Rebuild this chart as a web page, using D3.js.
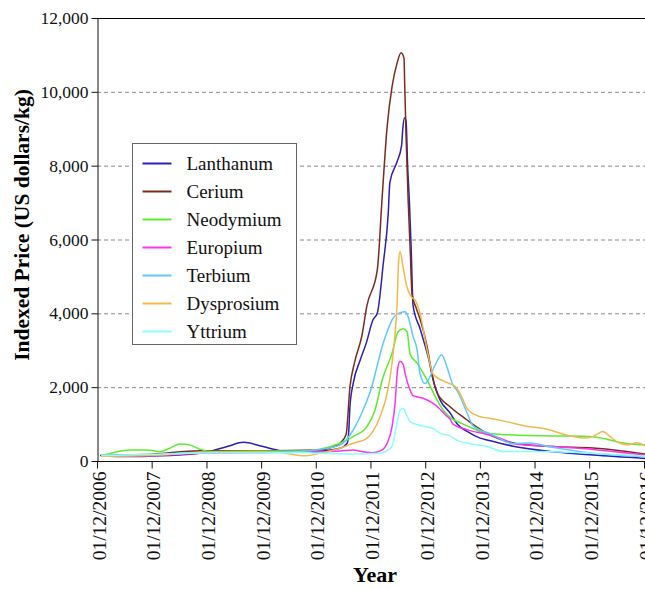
<!DOCTYPE html>
<html>
<head>
<meta charset="utf-8">
<script src="https://cdn.jsdelivr.net/npm/d3@7"></script>
<style>
  body { margin: 0; background: #fff; }
  svg { display: block; }
  svg text { font-family: "Liberation Serif", "Times New Roman", Times, serif; }
</style>
</head>
<body>
<script>
// Rare earth indexed prices ([decimal year, US$/kg])
const elements = ["Lanthanum", "Cerium", "Neodymium", "Europium", "Terbium", "Dysprosium", "Yttrium"];
const colors = ["#2c1fb3", "#7a2c1e", "#58ee2c", "#ff33ee", "#5ec8ff", "#f2b84c", "#88ffff"];
const yTicks = [0, 2000, 4000, 6000, 8000, 10000, 12000];
const xTickYears = [2006, 2007, 2008, 2009, 2010, 2011, 2012, 2013, 2014, 2015, 2016];

const lanthanum = [
  [2006.99,145],[2007.48,120],[2007.94,135],[2008.40,160],[2008.95,250],[2009.31,400],[2009.59,505],
  [2009.93,400],[2010.30,270],[2010.67,235],[2011.09,280],[2011.36,345],[2011.49,480],[2011.52,840],
  [2011.54,1470],[2011.60,2100],[2011.73,2740],[2011.84,3200],[2011.96,3820],[2012.04,4000],[2012.15,5350],
  [2012.24,6700],[2012.27,7550],[2012.40,8100],[2012.484,8550],[2012.506,9000],[2012.539,9300],
  [2012.566,9200],[2012.594,8000],[2012.627,7000],[2012.658,5800],[2012.694,4200],[2012.822,3580],
  [2012.968,2825],[2013.096,2010],[2013.188,1650],[2013.37,1300],[2013.50,1000],[2013.681,800],
  [2013.919,620],[2014.047,570],[2014.522,400],[2015.254,250],[2015.985,160],[2016.935,70]
];
const cerium = [
  [2006.97,150],[2007.89,180],[2008.80,280],[2009.95,280],[2010.96,300],[2011.23,380],[2011.36,480],
  [2011.47,720],[2011.54,2000],[2011.63,2700],[2011.76,3400],[2011.85,4200],[2012.04,5170],[2012.13,7160],
  [2012.22,9050],[2012.31,10140],[2012.40,10770],[2012.475,11060],[2012.529,10900],[2012.539,10300],
  [2012.566,8800],[2012.603,7100],[2012.639,5800],[2012.676,4500],[2012.749,4150],[2012.840,3750],
  [2012.950,3100],[2013.06,2190],[2013.133,1850],[2013.37,1470],[2013.681,1110],[2013.846,930],
  [2014.102,700],[2014.522,490],[2015.254,390],[2015.985,350],[2016.478,280],[2016.935,190]
];
const neodymium = [
  [2006.99,150],[2007.15,200],[2007.28,250],[2007.52,300],[2007.83,300],[2008.07,250],[2008.25,350],
  [2008.43,460],[2008.62,430],[2008.80,315],[2009.02,260],[2009.90,270],[2010.63,270],[2010.99,320],
  [2011.36,480],[2011.60,660],[2011.85,930],[2012.00,1380],[2012.13,2190],[2012.31,2920],[2012.42,3500],
  [2012.511,3580],[2012.584,3500],[2012.639,2900],[2012.767,2650],[2012.950,2190],[2013.133,1650],
  [2013.243,1380],[2013.37,1180],[2013.608,1000],[2013.791,880],[2014.047,750],[2014.522,705],
  [2015.254,680],[2015.985,660],[2016.204,600],[2016.478,500],[2016.935,430]
];
const europium = [
  [2006.99,130],[2007.89,140],[2008.80,210],[2009.90,230],[2010.63,240],[2010.99,250],[2011.36,270],
  [2011.60,300],[2011.78,250],[2011.96,225],[2012.13,300],[2012.22,480],[2012.31,930],[2012.365,1560],
  [2012.41,2465],[2012.456,2700],[2012.511,2620],[2012.548,2375],[2012.639,1920],[2012.694,1770],
  [2012.877,1700],[2013.06,1560],[2013.188,1400],[2013.279,1260],[2013.37,1130],[2013.425,1000],
  [2013.681,850],[2014.047,720],[2014.285,620],[2014.541,470],[2015.254,390],[2015.985,310],[2016.935,160]
];
const terbium = [
  [2006.99,150],[2007.89,170],[2008.80,230],[2009.90,250],[2010.63,260],[2010.99,315],[2011.36,430],
  [2011.60,840],[2011.78,1380],[2011.94,2010],[2012.05,2650],[2012.13,3100],[2012.22,3500],[2012.31,3820],
  [2012.456,4020],[2012.548,4045],[2012.603,3910],[2012.694,3370],[2012.767,3010],[2012.822,2350],
  [2012.914,2100],[2012.968,2190],[2013.096,2600],[2013.215,2880],[2013.31,2555],[2013.425,2050],
  [2013.50,1900],[2013.681,1300],[2013.791,950],[2014.102,740],[2014.522,470],[2014.833,490],
  [2015.144,400],[2015.93,220],[2016.935,115]
];
const dysprosium = [
  [2006.99,130],[2007.89,150],[2008.80,230],[2009.71,250],[2010.26,230],[2010.72,140],[2010.96,200],
  [2011.36,345],[2011.60,480],[2011.85,615],[2011.96,800],[2012.09,1200],[2012.22,1830],[2012.31,2650],
  [2012.365,3460],[2012.40,4200],[2012.43,5400],[2012.456,5670],[2012.511,5250],[2012.575,4750],
  [2012.658,4450],[2012.731,4360],[2012.822,4000],[2012.950,3000],[2013.06,2350],[2013.243,2170],
  [2013.48,2000],[2013.608,1650],[2013.681,1420],[2013.864,1230],[2014.157,1140],[2014.413,1060],
  [2014.742,950],[2015.144,860],[2015.51,700],[2015.875,620],[2016.058,720],[2016.159,800],
  [2016.296,660],[2016.478,480],[2016.625,440],[2016.789,495],[2016.935,405]
];
const yttrium = [
  [2006.99,150],[2007.89,180],[2008.80,220],[2009.90,220],[2010.63,230],[2010.99,210],[2011.60,190],
  [2012.09,210],[2012.24,300],[2012.31,400],[2012.396,1000],[2012.456,1380],[2012.511,1420],
  [2012.584,1220],[2012.639,1065],[2012.822,960],[2013.06,880],[2013.188,750],[2013.37,680],
  [2013.50,560],[2013.736,470],[2014.047,390],[2014.34,260],[2015.254,250],[2015.985,210],[2016.935,130]
];
const seriesValues = [lanthanum, cerium, neodymium, europium, terbium, dysprosium, yttrium];

const width = 645, height = 589;
const margin = { top: 18, right: 1, bottom: 128, left: 97 };
const serif = "'Liberation Serif', 'Times New Roman', Times, serif";

// decimal year -> Date
function yearToDate(y) {
  const yr = Math.floor(y);
  const start = new Date(yr, 0, 1), end = new Date(yr + 1, 0, 1);
  return new Date(+start + (y - yr) * (end - start));
}

const x = d3.scaleTime()
  .domain([new Date(2006, 11, 1), new Date(2016, 11, 1)])
  .range([margin.left, width - margin.right]);

const y = d3.scaleLinear()
  .domain([0, 12000])
  .range([height - margin.bottom, margin.top]);

const svg = d3.select("body").append("svg")
  .attr("width", width)
  .attr("height", height)
  .attr("font-family", serif);

svg.append("rect").attr("width", width).attr("height", height).attr("fill", "#fff");

// Gridlines (dashed) and solid top line
svg.append("g")
  .selectAll("line")
  .data(yTicks.filter(d => d > 0))
  .join("line")
  .attr("x1", margin.left)
  .attr("x2", width)
  .attr("y1", d => y(d) + 0.5)
  .attr("y2", d => y(d) + 0.5)
  .attr("stroke", d => d === 12000 ? "#000" : "#888")
  .attr("stroke-width", 1)
  .attr("stroke-dasharray", d => d === 12000 ? null : "4,3");

// Lines
const line = d3.line()
  .x(d => x(yearToDate(d[0])))
  .y(d => y(d[1]))
  .curve(d3.curveMonotoneX);

svg.append("g")
  .selectAll("path")
  .data(seriesValues)
  .join("path")
  .attr("fill", "none")
  .attr("stroke", (d, i) => colors[i])
  .attr("stroke-width", 1.5)
  .attr("stroke-linejoin", "round")
  .attr("d", line);

// Y axis
const yAxis = svg.append("g")
  .attr("transform", `translate(${margin.left + 0.5},0)`)
  .call(d3.axisLeft(y).tickValues(yTicks).tickFormat(d3.format(",")).tickSize(6).tickPadding(3).tickSizeOuter(0));
yAxis.attr("font-family", serif);
yAxis.selectAll("text").attr("font-size", 17.5).attr("fill", "#111").attr("font-family", serif);
yAxis.selectAll("line, path").attr("stroke", "#111");

// X axis
const xAxis = svg.append("g")
  .attr("transform", `translate(0,${height - margin.bottom + 0.5})`)
  .call(d3.axisBottom(x)
    .tickValues(xTickYears.map(yr => new Date(yr, 11, 1)))
    .tickFormat(d3.timeFormat("%d/%m/%Y"))
    .tickSize(7)
    .tickSizeOuter(0));
xAxis.attr("font-family", serif);
xAxis.select(".domain").attr("d", `M${margin.left},0H${width}`);
xAxis.selectAll("line, path").attr("stroke", "#111");
xAxis.selectAll("text")
  .attr("transform", "rotate(-90)")
  .attr("text-anchor", "end")
  .attr("x", -10)
  .attr("y", 0)
  .attr("dy", "0.42em")
  .attr("font-size", 19.5)
  .attr("fill", "#111")
  .attr("font-family", serif);

// Axis titles
svg.append("text")
  .attr("transform", `translate(29,225) rotate(-90)`)
  .attr("text-anchor", "middle")
  .attr("font-size", 21.5)
  .attr("font-weight", "bold")
  .attr("font-family", serif)
  .text("Indexed Price (US dollars/kg)");

svg.append("text")
  .attr("x", 375)
  .attr("y", 582)
  .attr("text-anchor", "middle")
  .attr("font-size", 22)
  .attr("font-weight", "bold")
  .attr("font-family", serif)
  .text("Year");

// Legend
const legend = svg.append("g").attr("transform", "translate(132.5,143.5)");
legend.append("rect")
  .attr("width", 164)
  .attr("height", 201)
  .attr("fill", "#fff")
  .attr("stroke", "#666");

const item = legend.selectAll("g.item")
  .data(elements)
  .join("g")
  .attr("class", "item")
  .attr("transform", (d, i) => `translate(0,${20 + i * 28})`);

item.append("line")
  .attr("x1", 10).attr("x2", 39)
  .attr("stroke", (d, i) => colors[i])
  .attr("stroke-width", 2);

item.append("text")
  .attr("x", 54)
  .attr("dy", "0.35em")
  .attr("font-size", 19)
  .attr("fill", "#111")
  .attr("font-family", serif)
  .text(d => d);
</script>
</body>
</html>
